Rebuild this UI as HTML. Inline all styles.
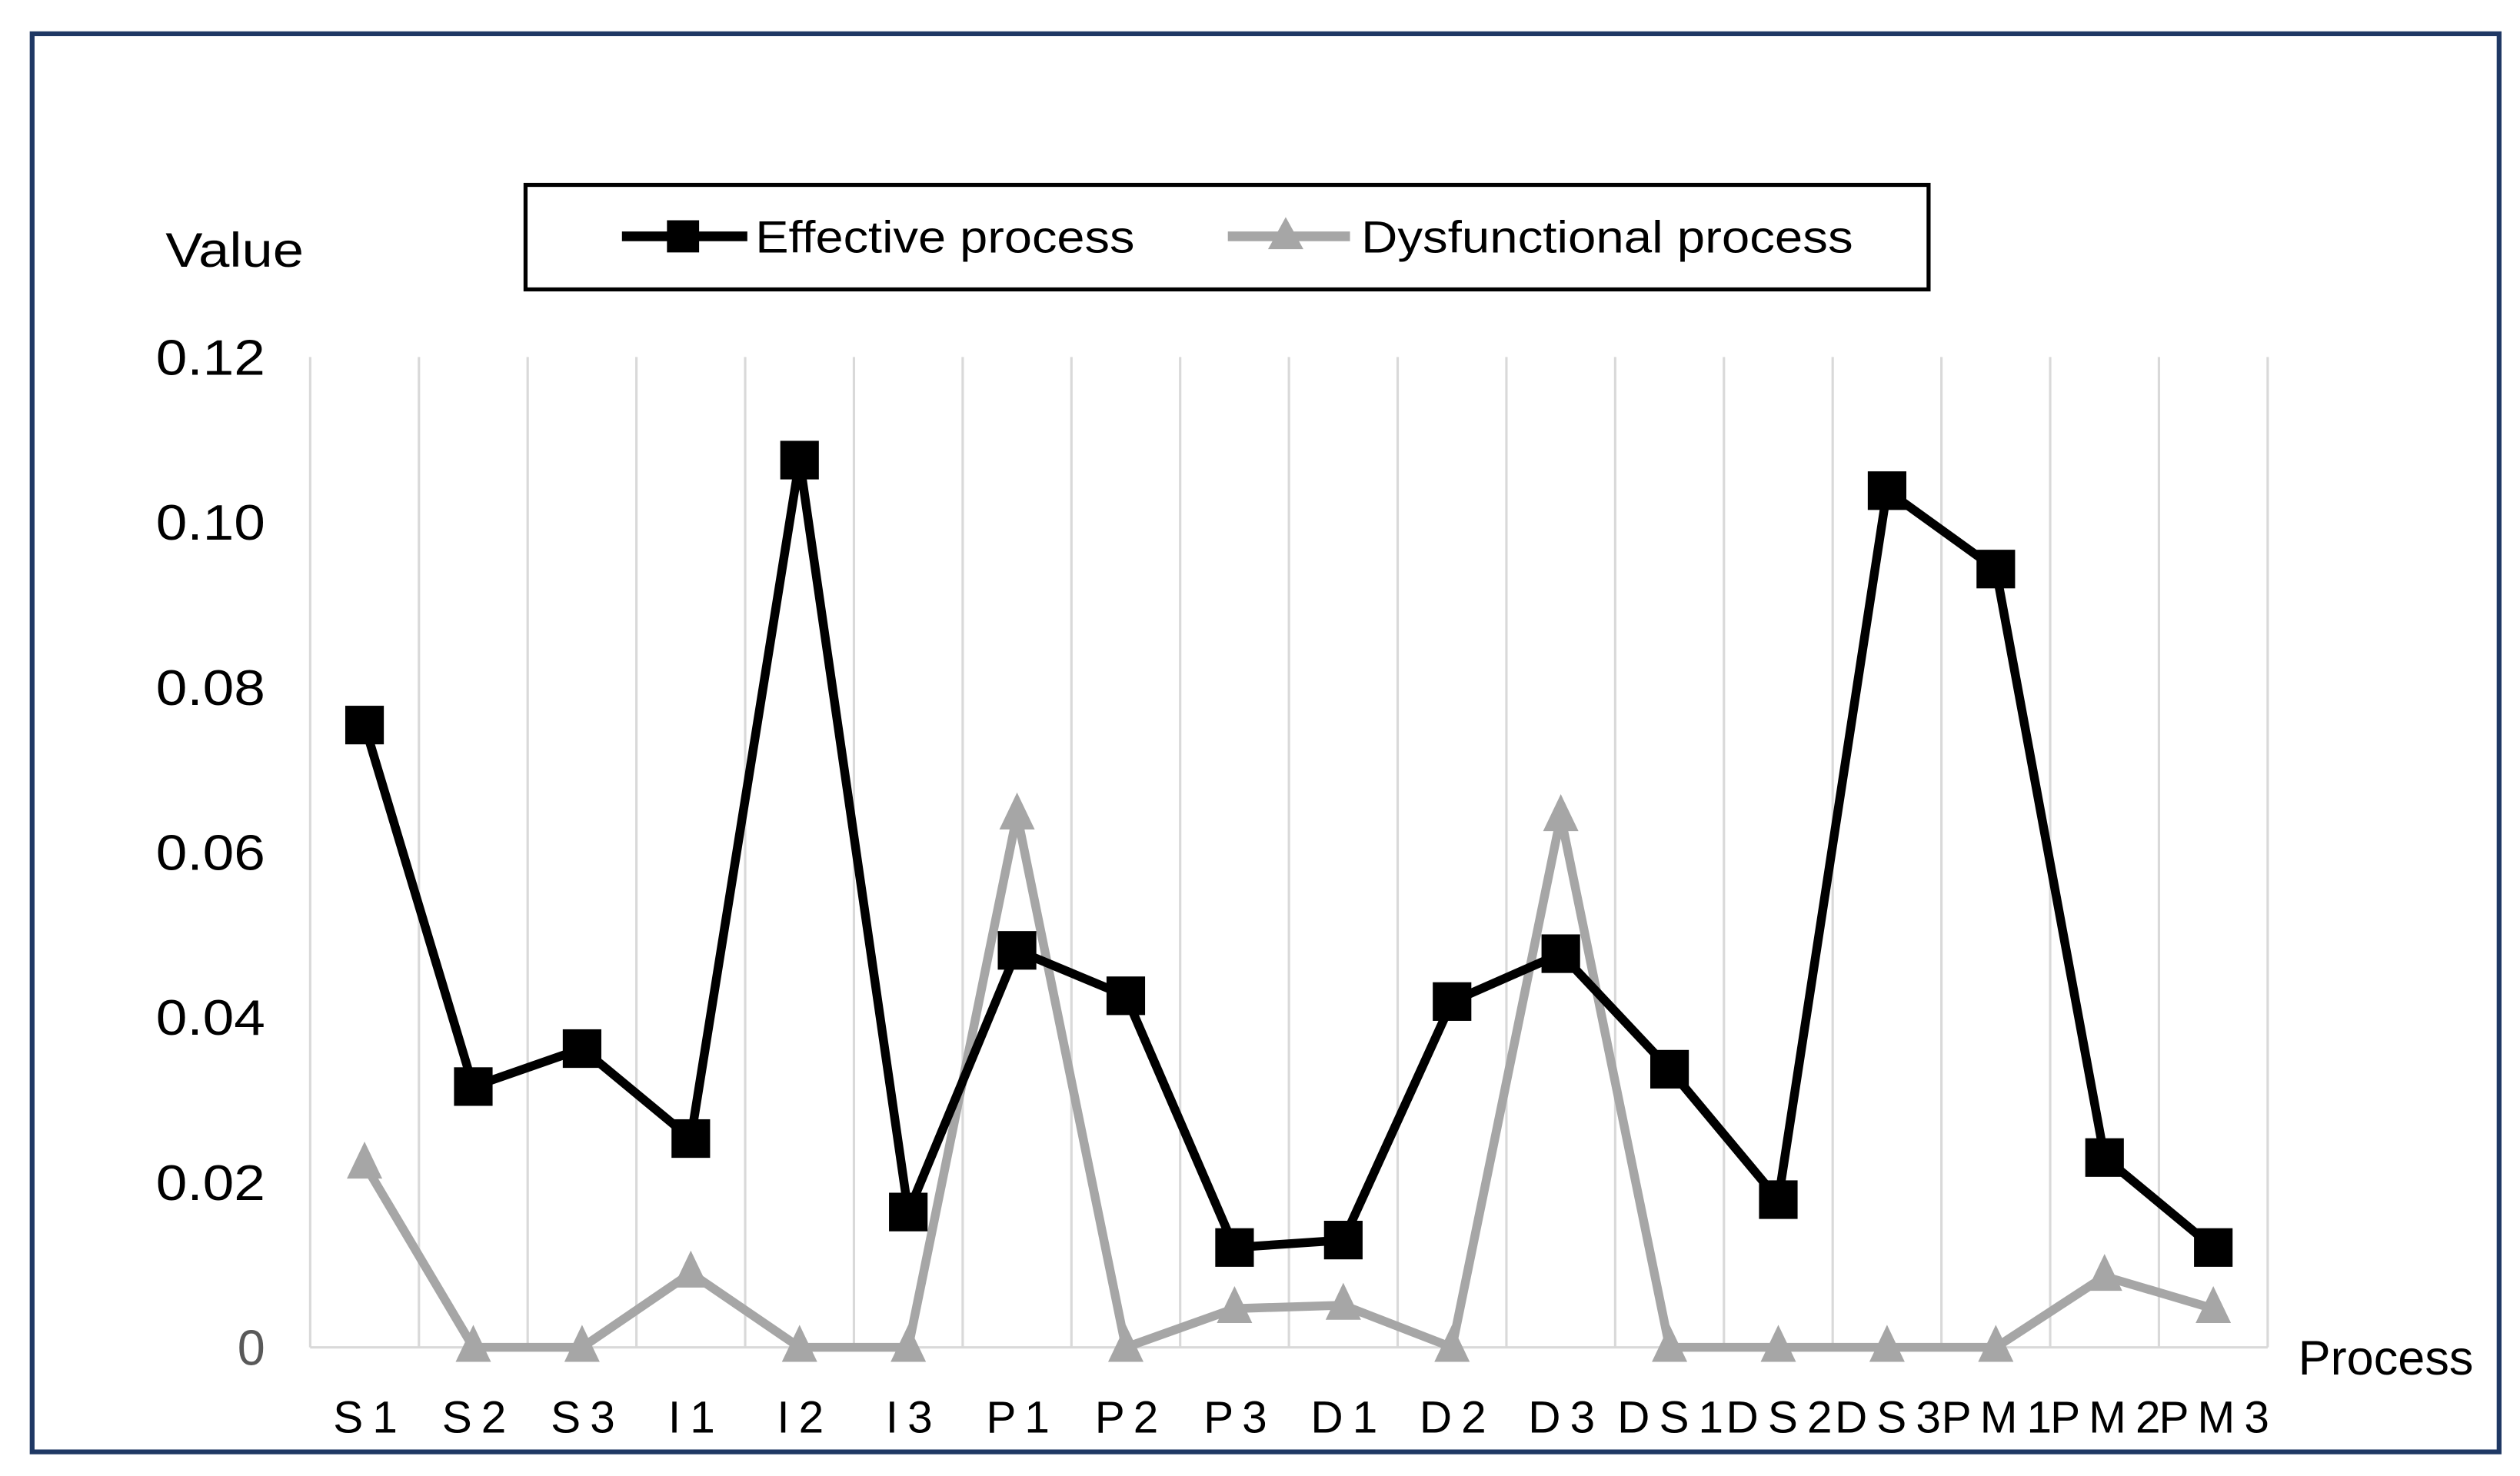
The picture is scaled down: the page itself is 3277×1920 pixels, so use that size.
<!DOCTYPE html>
<html><head><meta charset="utf-8">
<style>
html,body{margin:0;padding:0;background:#fff;width:3277px;height:1920px;overflow:hidden}
svg{display:block}
text{font-family:"Liberation Sans",sans-serif}
</style></head>
<body>
<svg id="chart" width="3277" height="1920" viewBox="0 0 1568 918" preserveAspectRatio="none" xmlns="http://www.w3.org/2000/svg">
  <rect x="20" y="21" width="1535" height="882" fill="#fff" stroke="#1f3864" stroke-width="3"/>
  <g>
    <rect x="327" y="115" width="873" height="65" fill="#fff" stroke="#000" stroke-width="2.5"/>
    <g>
      <line x1="387" y1="147" x2="465" y2="147" stroke="#000" stroke-width="6"/>
      <rect x="415" y="137" width="20" height="20" fill="#000"/>
      <text x="470" y="157" font-size="28" fill="#000" textLength="236" lengthAdjust="spacingAndGlyphs">Effective process</text>
    </g>
    <g>
      <line x1="764" y1="147" x2="840" y2="147" stroke="#a6a6a6" stroke-width="6"/>
      <polygon points="800,135 811,155 789,155" fill="#a6a6a6"/>
      <text x="847" y="157" font-size="28" fill="#000" textLength="306" lengthAdjust="spacingAndGlyphs">Dysfunctional process</text>
    </g>
  </g>
  <text x="103" y="166" font-size="30" fill="#000" textLength="86" lengthAdjust="spacingAndGlyphs">Value</text>
  <text x="1430" y="855" font-size="30" fill="#000" textLength="109" lengthAdjust="spacingAndGlyphs">Process</text>
  <g id="grid"></g>
  <g id="yticks"></g>
  <g id="xticks"></g>
  <g id="series"></g>
</svg>
<script>
const categories = ["S 1","S 2","S 3","I 1","I 2","I 3","P 1","P 2","P 3","D 1","D 2","D 3","D S 1","D S 2","D S 3","P M 1","P M 2","P M 3"];
const effective = [0.0754,0.0316,0.0362,0.0253,0.1075,0.0164,0.0481,0.0426,0.0121,0.0130,0.0419,0.0477,0.0337,0.0179,0.1038,0.0943,0.0230,0.0121];
const dysfunctional = [0.0222,0,0,0.0090,0,0,0.0645,0,0.0047,0.0051,0,0.0643,0,0,0,0,0.0086,0.0047];
const yTicks = [0,0.02,0.04,0.06,0.08,0.10,0.12];
const yTickLabels = ["0","0.02","0.04","0.06","0.08","0.10","0.12"];

const NS = "http://www.w3.org/2000/svg";
const X0 = 193, X1 = 1411, Y0 = 838, Y1 = 222, YMAX = 0.12;
const band = (X1 - X0) / categories.length;
function xScale(i){ return X0 + band * (i + 0.5); }
function yScale(v){ return Y0 - (v / YMAX) * (Y0 - Y1); }
function mk(tag, attrs, parent){ const e = document.createElementNS(NS, tag); for (const k in attrs) e.setAttribute(k, attrs[k]); parent.appendChild(e); return e; }

const grid = document.getElementById('grid');
for (let i = 0; i <= categories.length; i++) {
  const x = X0 + band * i;
  const l = mk('line', {x1:x, y1:Y1, x2:x, y2:Y0, stroke:'#d9d9d9', 'stroke-width':1.5}, grid);
  
  
}
const axis = mk('line', {x1:X0, y1:Y0, x2:X1, y2:Y0, stroke:'#d9d9d9', 'stroke-width':1.5}, grid);



const yt = document.getElementById('yticks');
yTicks.forEach((v, i) => {
  const attrs = {x:165, y:yScale(v) + 11, 'font-size':31, 'text-anchor':'end', fill: v === 0 ? '#595959' : '#000'};
  if (v !== 0) { attrs.textLength = 68; attrs.lengthAdjust = 'spacingAndGlyphs'; }
  const t = mk('text', attrs, yt);
  t.textContent = yTickLabels[i];
  
  
});

const xt = document.getElementById('xticks');
categories.forEach((c, i) => {
  const t = mk('text', {x:xScale(i), y:891, 'font-size':28, 'text-anchor':'middle', fill:'#000', 'letter-spacing':-1}, xt);
  t.textContent = c;
  
  
});

const sg = document.getElementById('series');
function pts(arr){ return arr.map((v, i) => xScale(i) + ',' + yScale(v)).join(' '); }
const dl = mk('polyline', {points:pts(dysfunctional), fill:'none', stroke:'#a6a6a6', 'stroke-width':5.5, 'stroke-linejoin':'round'}, sg);


const el = mk('polyline', {points:pts(effective), fill:'none', stroke:'#000', 'stroke-width':5.5, 'stroke-linejoin':'round'}, sg);


dysfunctional.forEach((v, i) => {
  const x = xScale(i), y = yScale(v);
  const p = mk('polygon', {points:`${x},${y-14} ${x+11},${y+9} ${x-11},${y+9}`, fill:'#a6a6a6'}, sg);
  
  
});
effective.forEach((v, i) => {
  const x = xScale(i), y = yScale(v);
  const r = mk('rect', {x:x-12, y:y-12, width:24, height:24, fill:'#000'}, sg);
  
  
});
</script>
</body></html>
